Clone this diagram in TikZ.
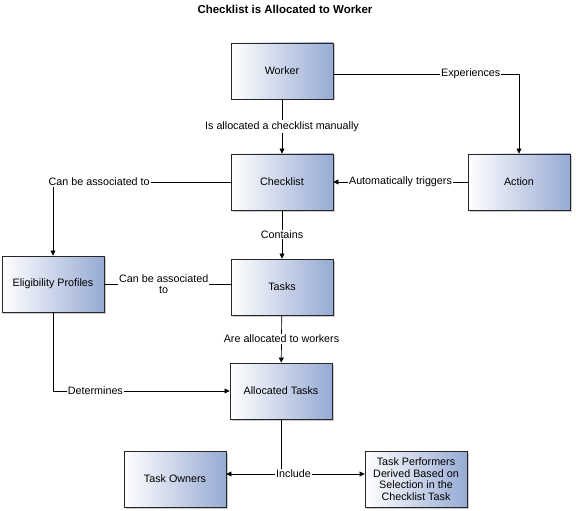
\documentclass[tikz,border=0pt]{standalone}
\usepackage{fontspec}
\setmainfont{Liberation Sans}
\usetikzlibrary{shadows,arrows.meta}
\definecolor{boxblue}{RGB}{150,170,212}
\tikzset{
  box/.style={draw=black!85,line width=0.9pt,left color=white,right color=boxblue,
    minimum width=102bp,minimum height=56bp,align=center,
    drop shadow={shadow xshift=1.5bp,shadow yshift=-1.5bp,opacity=0.35,fill=black!60}},
  lbl/.style={fill=white,inner sep=1bp,align=center},
  conn/.style={draw,line width=0.7pt},
  arr/.style={conn,-{Triangle[length=5bp,width=5bp]}}
}
\begin{document}
\begin{tikzpicture}[x=1bp,y=-1bp,font=\fontsize{10.8}{11.5}\selectfont]
  \useasboundingbox (0,0) rectangle (576,511);
  \node[font=\fontsize{11.5}{13}\selectfont\bfseries] (title) at (285,9)
    {Checklist is Allocated to Worker};
  % boxes
  \node[box] (worker) at (282,71) {Worker};
  \node[box] (check) at (282,182) {Checklist};
  \node[box] (action) at (519,182) {Action};
  \node[box] (elig) at (53,284) {Eligibility Profiles};
  \node[box] (tasks) at (282,287) {Tasks};
  \node[box] (alloc) at (281,391) {Allocated Tasks};
  \node[box] (owners) at (175,479) {Task Owners};
  \node[box] (perf) at (416,479) {Task Performers\\Derived Based on\\Selection in the\\Checklist Task};
  % connectors
  \draw[arr] (worker) -- node[lbl] {Is allocated a checklist manually} (check);
  \draw[arr] ([yshift=-3bp]worker.east) -| node[lbl,pos=0.37] {Experiences} (action.north);
  \draw[arr] (action) -- node[lbl] {Automatically triggers} (check);
  \draw[arr] (check.west) -| node[lbl,pos=0.37] {Can be associated to} (elig.north);
  \draw[arr] (check) -- node[lbl] {Contains} (tasks);
  \draw[conn] (elig.east) -- node[lbl,pos=0.47] {Can be associated\\to} (elig.east -| tasks.west);
  \draw[arr] (tasks) -- node[lbl] {Are allocated to workers} (alloc);
  \draw[arr] (elig.south) |- node[lbl,pos=0.62] {Determines} (alloc.west);
  \coordinate (split) at (alloc.south |- 0,474);
  \draw[conn] (alloc.south) -- (split);
  \draw[arr] (split) -- (split -| owners.east);
  \draw[arr] (split) -- node[lbl,pos=0.15] {Include} (split -| perf.west);
\end{tikzpicture}
\end{document}
